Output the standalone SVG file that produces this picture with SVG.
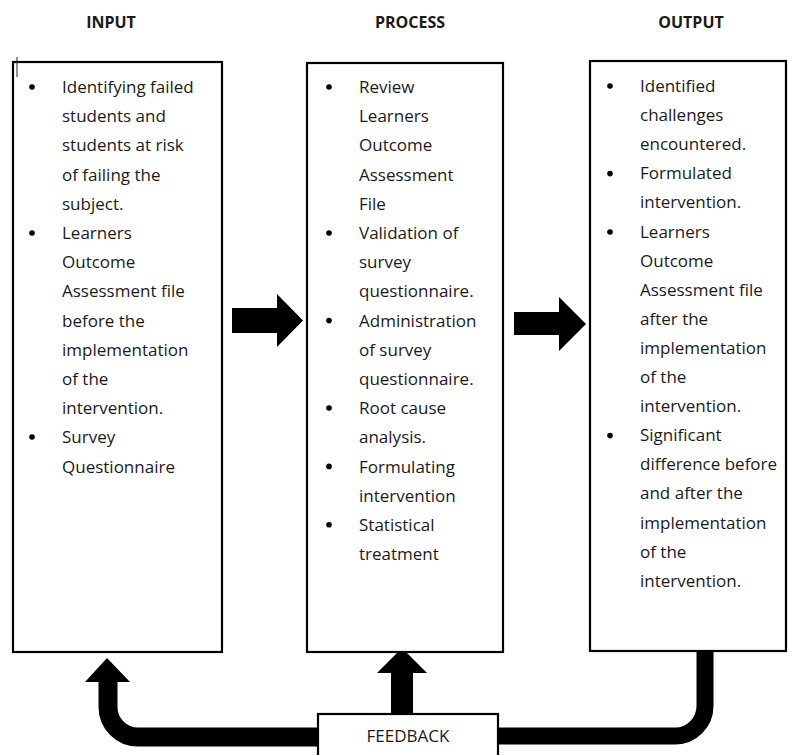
<svg xmlns="http://www.w3.org/2000/svg" width="788" height="755" viewBox="0 0 788 755">
<style>
.box{fill:#fff;stroke:#000;stroke-width:2.2}
.t{font-family:"Open Sans","Noto Sans",sans-serif;font-size:17px;fill:#1a1a1a}
.h{font-family:"Open Sans","Noto Sans",sans-serif;font-size:16px;font-weight:bold;fill:#1a1a1a;text-anchor:middle}
.b{fill:#000}
.arr{fill:#000}
.band{fill:none;stroke:#000}
</style>
<rect width="788" height="755" fill="#fff"/>
<text class="h" x="111" y="28">INPUT</text>
<text class="h" x="410" y="28">PROCESS</text>
<text class="h" x="691" y="28">OUTPUT</text>

<g id="connectors">
<polygon class="arr" points="232,308 277,308 277,294 303,320.5 277,347 277,333 232,333"/>
<polygon class="arr" points="514,312 559,312 559,297 586,324 559,351 559,335 514,335"/>
<path class="band" stroke-width="19" d="M108,680 V707 A30,30 0 0 0 138,737 H320"/>
<polygon class="arr" points="85,682 107,658 130,682"/>
<path class="band" stroke-width="17" d="M497,736 H675 A30,30 0 0 0 705,706 V650"/>
<rect class="arr" x="391" y="672" width="22" height="43"/>
<polygon class="arr" points="377,673 402,648 427,673"/>
</g>

<g id="input">
<rect class="box" x="13" y="62" width="209" height="590"/>
<line x1="17" y1="57" x2="17" y2="77" stroke="#222" stroke-width="1"/>
<circle class="b" cx="32" cy="87" r="2.8"/>
<circle class="b" cx="32" cy="233" r="2.8"/>
<circle class="b" cx="32" cy="437" r="2.8"/>
<text class="t">
<tspan x="62" y="93">Identifying failed</tspan>
<tspan x="62" y="122.2">students and</tspan>
<tspan x="62" y="151.4">students at risk</tspan>
<tspan x="62" y="180.6">of failing the</tspan>
<tspan x="62" y="209.8">subject.</tspan>
<tspan x="62" y="239">Learners</tspan>
<tspan x="62" y="268.2">Outcome</tspan>
<tspan x="62" y="297.4">Assessment file</tspan>
<tspan x="62" y="326.6">before the</tspan>
<tspan x="62" y="355.8">implementation</tspan>
<tspan x="62" y="385">of the</tspan>
<tspan x="62" y="414.2">intervention.</tspan>
<tspan x="62" y="443.4">Survey</tspan>
<tspan x="62" y="472.6">Questionnaire</tspan>
</text>
</g>

<g id="process">
<rect class="box" x="307" y="63" width="196" height="589"/>
<circle class="b" cx="329" cy="87" r="2.8"/>
<circle class="b" cx="329" cy="233" r="2.8"/>
<circle class="b" cx="329" cy="320.6" r="2.8"/>
<circle class="b" cx="329" cy="408" r="2.8"/>
<circle class="b" cx="329" cy="466.4" r="2.8"/>
<circle class="b" cx="329" cy="524.8" r="2.8"/>
<text class="t">
<tspan x="359" y="93">Review</tspan>
<tspan x="359" y="122.2">Learners</tspan>
<tspan x="359" y="151.4">Outcome</tspan>
<tspan x="359" y="180.6">Assessment</tspan>
<tspan x="359" y="209.8">File</tspan>
<tspan x="359" y="239">Validation of</tspan>
<tspan x="359" y="268.2">survey</tspan>
<tspan x="359" y="297.4">questionnaire.</tspan>
<tspan x="359" y="326.6">Administration</tspan>
<tspan x="359" y="355.8">of survey</tspan>
<tspan x="359" y="385">questionnaire.</tspan>
<tspan x="359" y="414.2">Root cause</tspan>
<tspan x="359" y="443.4">analysis.</tspan>
<tspan x="359" y="472.6">Formulating</tspan>
<tspan x="359" y="501.8">intervention</tspan>
<tspan x="359" y="531">Statistical</tspan>
<tspan x="359" y="560.2">treatment</tspan>
</text>
</g>

<g id="output">
<rect class="box" x="590" y="61" width="196" height="590"/>
<circle class="b" cx="610" cy="86" r="2.8"/>
<circle class="b" cx="610" cy="173.6" r="2.8"/>
<circle class="b" cx="610" cy="232" r="2.8"/>
<circle class="b" cx="610" cy="435.6" r="2.8"/>
<text class="t">
<tspan x="640" y="92">Identified</tspan>
<tspan x="640" y="121.1">challenges</tspan>
<tspan x="640" y="150.2">encountered.</tspan>
<tspan x="640" y="179.3">Formulated</tspan>
<tspan x="640" y="208.4">intervention.</tspan>
<tspan x="640" y="237.5">Learners</tspan>
<tspan x="640" y="266.6">Outcome</tspan>
<tspan x="640" y="295.7">Assessment file</tspan>
<tspan x="640" y="324.8">after the</tspan>
<tspan x="640" y="353.9">implementation</tspan>
<tspan x="640" y="383">of the</tspan>
<tspan x="640" y="412.1">intervention.</tspan>
<tspan x="640" y="441.2">Significant</tspan>
<tspan x="640" y="470.3">difference before</tspan>
<tspan x="640" y="499.4">and after the</tspan>
<tspan x="640" y="528.5">implementation</tspan>
<tspan x="640" y="557.6">of the</tspan>
<tspan x="640" y="586.7">intervention.</tspan>
</text>
</g>

<g id="feedback">
<rect class="box" x="318" y="714" width="180" height="50"/>
<text class="t" x="408" y="742" text-anchor="middle">FEEDBACK</text>
</g>
</svg>
